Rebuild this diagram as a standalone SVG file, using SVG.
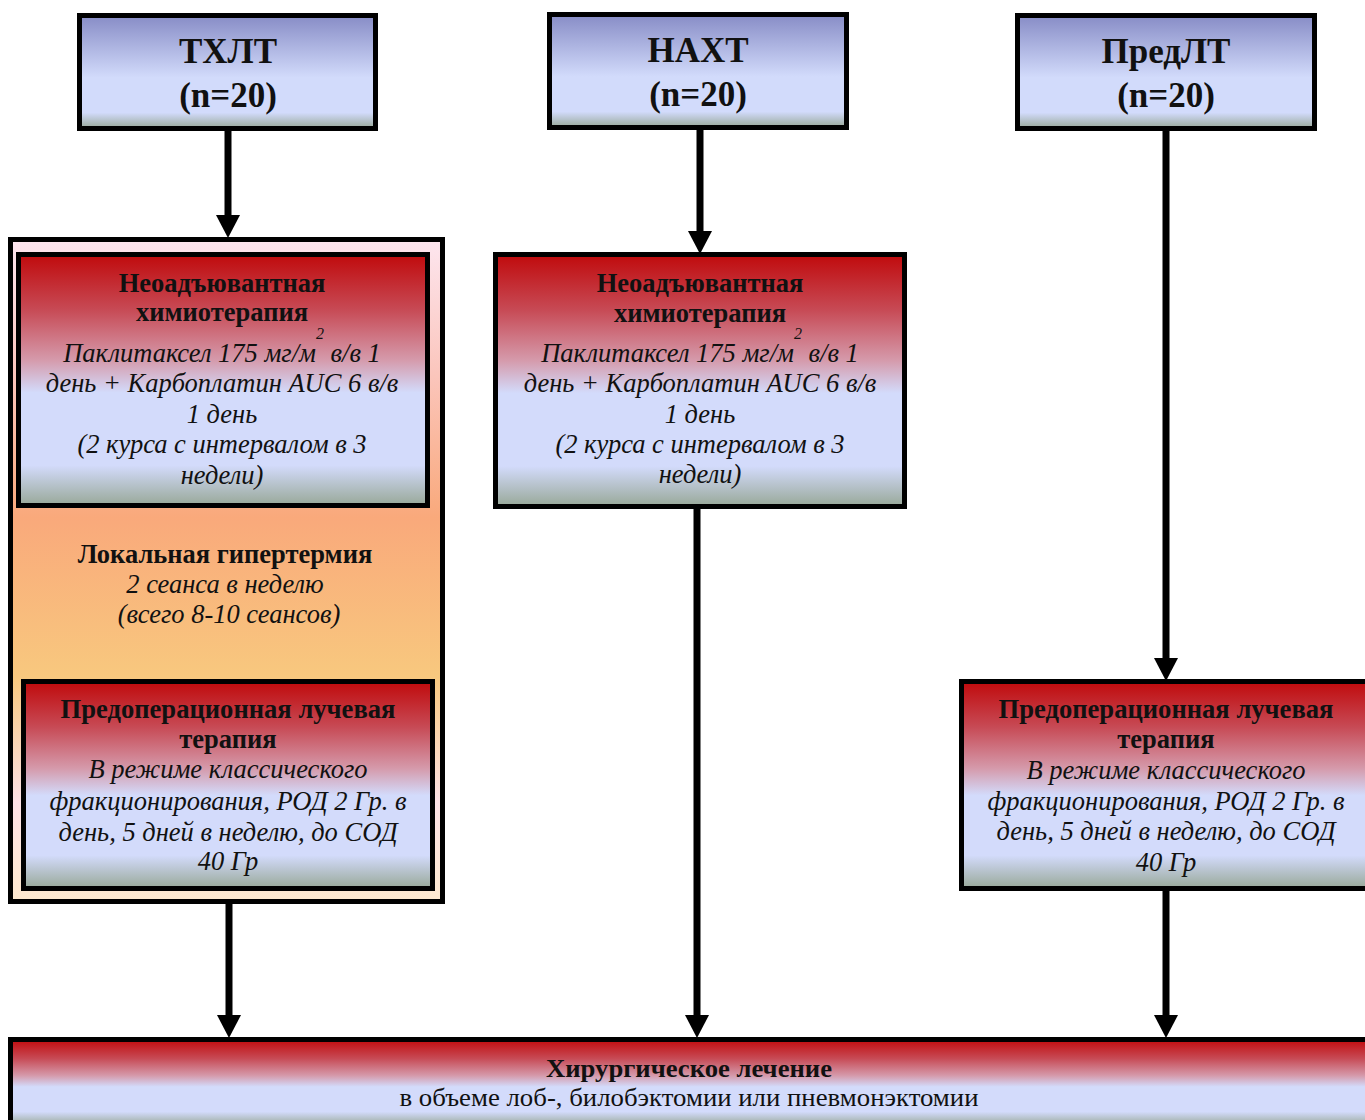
<svg xmlns="http://www.w3.org/2000/svg" width="1365" height="1120" viewBox="0 0 1365 1120">
<defs>
<linearGradient id="gTop" x1="0" y1="0" x2="0" y2="1">
<stop offset="0" stop-color="#878cc6"/>
<stop offset="0.55" stop-color="#d2dbfb"/>
<stop offset="0.86" stop-color="#d2dbfb"/>
<stop offset="1" stop-color="#98a898"/>
</linearGradient>
<linearGradient id="gRed" x1="0" y1="0" x2="0" y2="1">
<stop offset="0" stop-color="#c00a0c"/>
<stop offset="0.22" stop-color="#c74a55"/>
<stop offset="0.42" stop-color="#d59aab"/>
<stop offset="0.55" stop-color="#d3dbfb"/>
<stop offset="0.84" stop-color="#d3dbfb"/>
<stop offset="1" stop-color="#98a898"/>
</linearGradient>
<linearGradient id="gOuter" x1="0" y1="0" x2="0" y2="1">
<stop offset="0" stop-color="#fde6ef"/>
<stop offset="0.2" stop-color="#fbc6bd"/>
<stop offset="0.42" stop-color="#f9a97b"/>
<stop offset="0.66" stop-color="#f8c87e"/>
<stop offset="0.85" stop-color="#fde2e6"/>
<stop offset="1" stop-color="#fde9cf"/>
</linearGradient>
<marker id="ah" markerUnits="userSpaceOnUse" markerWidth="24" markerHeight="24" refX="0" refY="11.5" orient="auto" viewBox="0 0 23 23">
<path d="M0,0 L22,11.5 L0,23 Z" fill="#000"/>
</marker>
</defs>
<style>
.box{stroke:#000;stroke-width:5}
.top{fill:url(#gTop)}
.red{fill:url(#gRed)}
.t{font-family:"Liberation Serif","Times New Roman",serif;text-anchor:middle;fill:#111}
.big{font-size:35px;font-weight:bold}
.b{font-size:26.5px;font-weight:bold}
.i{font-size:26.5px;font-style:italic}
.sup{font-size:16px;font-style:italic}
.conn{stroke:#000;stroke-width:7;fill:none}
</style>
<rect width="1365" height="1120" fill="#fff"/>

<g id="connectors">
<path class="conn" d="M228,130 V215" marker-end="url(#ah)"/>
<path class="conn" d="M700,129 V231" marker-end="url(#ah)"/>
<path class="conn" d="M1166,130 V658" marker-end="url(#ah)"/>
<path class="conn" d="M229,903 V1015" marker-end="url(#ah)"/>
<path class="conn" d="M697,508 V1015" marker-end="url(#ah)"/>
<path class="conn" d="M1166,890 V1015" marker-end="url(#ah)"/>
</g>

<g id="txlt">
<rect class="box top" x="79.5" y="15.5" width="296" height="113"/>
<text class="t big" x="228" y="63">ТХЛТ</text>
<text class="t big" x="228" y="107">(n=20)</text>
</g>

<g id="naxt">
<rect class="box top" x="549.5" y="14.5" width="297" height="113"/>
<text class="t big" x="698" y="62">НАХТ</text>
<text class="t big" x="698" y="106">(n=20)</text>
</g>

<g id="predlt">
<rect class="box top" x="1017.5" y="15.5" width="297" height="113"/>
<text class="t big" x="1166" y="63">ПредЛТ</text>
<text class="t big" x="1166" y="107">(n=20)</text>
</g>

<g id="txlt-container">
<rect class="box" x="10.5" y="239.5" width="432" height="662" fill="url(#gOuter)"/>
<g id="hyperthermia">
<text class="t b" x="225" y="563">Локальная гипертермия</text>
<text class="t i" x="225" y="593">2 сеанса в неделю</text>
<text class="t i" x="229" y="623">(всего 8-10 сеансов)</text>
</g>
</g>

<g id="chemo-left">
<rect class="box red" x="18.5" y="254.5" width="409" height="251"/>
<text class="t b" x="222" y="292">Неоадъювантная</text>
<text class="t b" x="222" y="321">химиотерапия</text>
<text class="t i" x="222" y="362">Паклитаксел 175 мг/м<tspan class="sup" dy="-23">2</tspan><tspan dy="23"> в/в 1</tspan></text>
<text class="t i" x="222" y="392">день + Карбоплатин AUC 6 в/в</text>
<text class="t i" x="222" y="423">1 день</text>
<text class="t i" x="222" y="453">(2 курса с интервалом в 3</text>
<text class="t i" x="222" y="484">недели)</text>
</g>

<g id="radio-left">
<rect class="box red" x="23.5" y="681.5" width="409" height="207"/>
<text class="t b" x="228" y="718" textLength="335" lengthAdjust="spacingAndGlyphs">Предоперационная лучевая</text>
<text class="t b" x="228" y="748">терапия</text>
<text class="t i" x="228" y="778">В режиме классического</text>
<text class="t i" x="228" y="810">фракционирования, РОД 2 Гр. в</text>
<text class="t i" x="228" y="841">день, 5 дней в неделю, до СОД</text>
<text class="t i" x="228" y="870">40 Гр</text>
</g>

<g id="chemo-mid">
<rect class="box red" x="495.5" y="254.5" width="409" height="252"/>
<text class="t b" x="700" y="292">Неоадъювантная</text>
<text class="t b" x="700" y="322">химиотерапия</text>
<text class="t i" x="700" y="362">Паклитаксел 175 мг/м<tspan class="sup" dy="-23">2</tspan><tspan dy="23"> в/в 1</tspan></text>
<text class="t i" x="700" y="392">день + Карбоплатин AUC 6 в/в</text>
<text class="t i" x="700" y="423">1 день</text>
<text class="t i" x="700" y="453">(2 курса с интервалом в 3</text>
<text class="t i" x="700" y="483">недели)</text>
</g>

<g id="radio-right">
<rect class="box red" x="961.5" y="681.5" width="420" height="207"/>
<text class="t b" x="1166" y="718" textLength="335" lengthAdjust="spacingAndGlyphs">Предоперационная лучевая</text>
<text class="t b" x="1166" y="748">терапия</text>
<text class="t i" x="1166" y="779">В режиме классического</text>
<text class="t i" x="1166" y="810">фракционирования, РОД 2 Гр. в</text>
<text class="t i" x="1166" y="840">день, 5 дней в неделю, до СОД</text>
<text class="t i" x="1166" y="871">40 Гр</text>
</g>

<g id="surgery">
<rect class="box red" x="10.5" y="1039.5" width="1370" height="86"/>
<text class="t" x="689" y="1077" font-size="25" font-weight="bold" textLength="286" lengthAdjust="spacingAndGlyphs">Хирургическое лечение</text>
<text class="t" x="689" y="1106" font-size="25" textLength="579" lengthAdjust="spacingAndGlyphs">в объеме лоб-, билобэктомии или пневмонэктомии</text>
</g>
</svg>
